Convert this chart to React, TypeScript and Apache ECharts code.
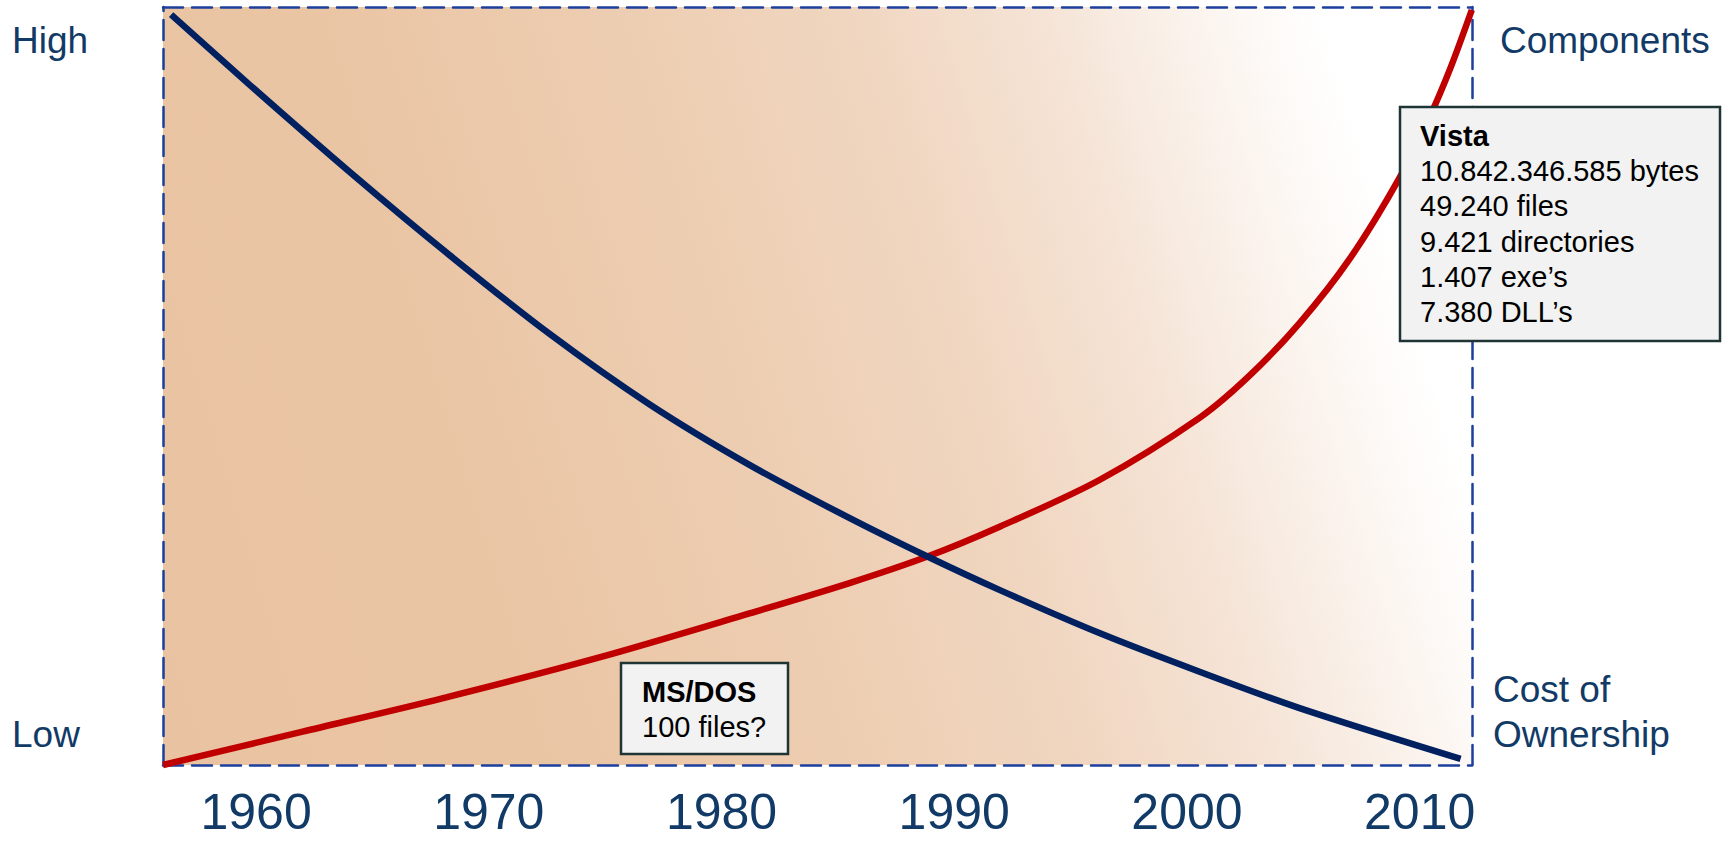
import React, { useEffect, useRef } from "react";
import * as echarts from "echarts";

// ---- data ----
const tickYears = [1960, 1970, 1980, 1990, 2000, 2010];

const componentYears = [1956.0, 1962.0, 1968.0, 1974.75, 1981.2, 1985.5, 1988.85, 1992.0, 1996.24, 2000.54, 2002.7, 2004.84, 2007.0, 2009.14, 2010.43, 2011.33, 2012.24];
const componentValues = [0, 4.4, 8.8, 14.2, 20.0, 24.0, 27.5, 31.5, 37.6, 45.8, 51.4, 58.3, 66.8, 77.5, 85.5, 92.0, 99.6];

const costYears = [1956.35, 1959.7, 1964.0, 1968.3, 1972.6, 1976.9, 1981.2, 1985.49, 1988.85, 1991.94, 1996.24, 2000.54, 2004.84, 2011.76];
const costValues = [99.0, 89.8, 78.3, 67.3, 56.9, 47.6, 39.6, 32.6, 27.5, 23.1, 17.4, 12.3, 7.5, 0.8];

const leftLabels = ["High", "Low"];
const rightTopLabel = "Components";
const rightBottomLabel = ["Cost of", "Ownership"];

const vistaTitle = "Vista";
const vistaLines = ["10.842.346.585 bytes", "49.240 files", "9.421 directories", "1.407 exe\u2019s", "7.380 DLL\u2019s"];
const dosTitle = "MS/DOS";
const dosLines = ["100 files?"];

const FONT = "'Liberation Sans', Arial, Helvetica, sans-serif";
const NAVY_TEXT = "#123A66";
const BORDER = "#1C3F9E";

export default function App() {
  const ref = useRef<HTMLDivElement>(null);

  useEffect(() => {
    if (!ref.current) return;
    const chart = echarts.init(ref.current, undefined, { renderer: "svg" });

    const bg = new echarts.graphic.LinearGradient(163, 900, 1472, 500, [
      { offset: 0, color: "#E9C3A1" },
      { offset: 0.3, color: "#EAC5A4" },
      { offset: 0.5, color: "#EDCDB1" },
      { offset: 0.67, color: "#F0D6C0" },
      { offset: 0.8, color: "#F5E3D5" },
      { offset: 0.88, color: "#F9EFE7" },
      { offset: 0.95, color: "#FDF9F6" },
      { offset: 1, color: "#FFFFFF" },
    ], true);

    const dashed = { color: BORDER, width: 2.5, type: [20, 9] as any };

    const textStyle = (size: number, color: string, bold = false) => ({
      fontFamily: FONT,
      fontSize: size,
      fontWeight: bold ? "bold" : "normal",
      fill: color,
    });

    const graphics: any[] = [];
    graphics.push({ type: "text", x: 12, y: 40, z: 100, style: { text: leftLabels[0], ...textStyle(37, NAVY_TEXT), align: "left", verticalAlign: "middle" } });
    graphics.push({ type: "text", x: 12, y: 734, z: 100, style: { text: leftLabels[1], ...textStyle(37, NAVY_TEXT), align: "left", verticalAlign: "middle" } });
    graphics.push({ type: "text", x: 1500, y: 40, z: 100, style: { text: rightTopLabel, ...textStyle(37, NAVY_TEXT), align: "left", verticalAlign: "middle" } });
    rightBottomLabel.forEach((t, i) => {
      graphics.push({ type: "text", x: 1493, y: 689 + i * 45, z: 100, style: { text: t, ...textStyle(37, NAVY_TEXT), align: "left", verticalAlign: "middle" } });
    });

    // Vista box
    graphics.push({ type: "rect", z: 100, shape: { x: 1400, y: 107, width: 320, height: 234 }, style: { fill: "#F2F2F2", stroke: "#1F3535", lineWidth: 2.5 } });
    [vistaTitle, ...vistaLines].forEach((t, i) => {
      graphics.push({ type: "text", z: 101, x: 1420, y: 136 + i * 35.2, style: { text: t, ...textStyle(29, "#000000", i === 0), align: "left", verticalAlign: "middle" } });
    });

    // MS/DOS box
    graphics.push({ type: "rect", z: 100, shape: { x: 621, y: 663, width: 167, height: 91 }, style: { fill: "#F2F2F2", stroke: "#1F3535", lineWidth: 2.5 } });
    [dosTitle, ...dosLines].forEach((t, i) => {
      graphics.push({ type: "text", z: 101, x: 642, y: 692 + i * 35.2, style: { text: t, ...textStyle(29, "#000000", i === 0), align: "left", verticalAlign: "middle" } });
    });

    const hiddenAxis = {
      axisTick: { show: false },
      splitLine: { show: false },
      axisLabel: { show: false },
    };

    chart.setOption({
      animation: false,
      backgroundColor: "#FFFFFF",
      grid: {
        left: 163,
        top: 7,
        right: 250,
        bottom: 77,
        show: true,
        backgroundColor: bg,
        borderWidth: 0,
      },
      xAxis: [
        {
          type: "value",
          position: "bottom",
          min: 1956,
          max: 2012.25,
          axisLine: { show: true, lineStyle: dashed },
          axisTick: { show: false },
          splitLine: { show: false },
          axisLabel: {
            customValues: tickYears,
            formatter: (v: number) => (v % 10 === 0 ? String(v) : ""),
            color: NAVY_TEXT,
            fontSize: 50,
            lineHeight: 50,
            fontFamily: FONT,
            margin: 22,
            showMinLabel: true,
            showMaxLabel: true,
          },
        },
        {
          type: "value",
          position: "top",
          min: 1956,
          max: 2012.25,
          axisLine: { show: true, onZero: false, lineStyle: dashed },
          ...hiddenAxis,
        },
      ],
      yAxis: [
        {
          type: "value",
          position: "left",
          min: 0,
          max: 100,
          axisLine: { show: true, onZero: false, lineStyle: dashed },
          ...hiddenAxis,
        },
        {
          type: "value",
          position: "right",
          min: 0,
          max: 100,
          axisLine: { show: true, onZero: false, lineStyle: dashed },
          ...hiddenAxis,
        },
      ],
      series: [
        {
          name: "Components",
          type: "line",
          xAxisIndex: 0,
          yAxisIndex: 0,
          smooth: 0.3,
          showSymbol: false,
          clip: false,
          z: 3,
          lineStyle: { color: "#C00000", width: 6.5 },
          data: componentYears.map((y, i) => [y, componentValues[i]]),
        },
        {
          name: "Cost of Ownership",
          type: "line",
          xAxisIndex: 0,
          yAxisIndex: 0,
          smooth: 0.3,
          showSymbol: false,
          clip: false,
          z: 4,
          lineStyle: { color: "#002060", width: 6.5 },
          data: costYears.map((y, i) => [y, costValues[i]]),
        },
      ],
      graphic: graphics,
    });

    return () => chart.dispose();
  }, []);

  return (
    <div
      ref={ref}
      style={{ position: "absolute", left: 0, top: 0, width: 1722, height: 842, background: "#fff" }}
    />
  );
}
